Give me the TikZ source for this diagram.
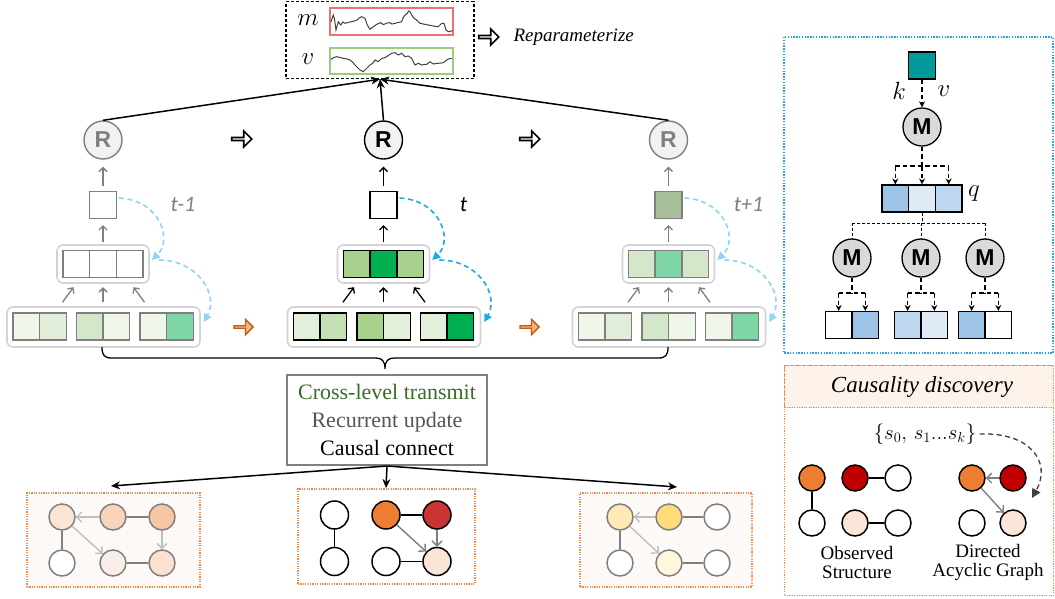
\documentclass[tikz,border=0pt]{standalone}
\usepackage{fontspec}
\setmainfont{Liberation Serif}
\newfontfamily\sansbf{Liberation Sans}
\newfontfamily\carlito{Carlito}
\usetikzlibrary{arrows.meta,shapes.arrows,calc}
\definecolor{cgray}{HTML}{7F7F7F}
\definecolor{contc}{HTML}{D3D3D3}
\definecolor{rfill}{HTML}{F2F2F2}
\definecolor{gA}{HTML}{EFF7EB}
\definecolor{gB}{HTML}{E2EEDA}
\definecolor{gC}{HTML}{D4E7CA}
\definecolor{gM}{HTML}{7FD6A6}
\definecolor{gS}{HTML}{A8C09A}
\definecolor{mA}{HTML}{E2F0D9}
\definecolor{mB}{HTML}{C5E0B4}
\definecolor{mC}{HTML}{A9D18E}
\definecolor{mG}{HTML}{00B050}
\definecolor{blL}{HTML}{8DD4F6}
\definecolor{blD}{HTML}{18ACEB}
\definecolor{oBord}{HTML}{F08A4B}
\definecolor{oFill}{HTML}{FDF9F6}
\definecolor{oArrF}{HTML}{F4B183}
\definecolor{oArrD}{HTML}{C55A11}
\definecolor{pA}{HTML}{FCE4D6}
\definecolor{pB}{HTML}{F9D3BA}
\definecolor{pC}{HTML}{F7C6A5}
\definecolor{pD}{HTML}{F9EDE8}
\definecolor{pE}{HTML}{FBE1D2}
\definecolor{yA}{HTML}{FFE9B5}
\definecolor{yB}{HTML}{FFDC7A}
\definecolor{yC}{HTML}{FFF6DE}
\definecolor{cOr}{HTML}{ED7D31}
\definecolor{cRd}{HTML}{C93434}
\definecolor{cDR}{HTML}{C00000}
\definecolor{cPe}{HTML}{FBE5D6}
\definecolor{lgr}{HTML}{BFBFBF}
\definecolor{qA}{HTML}{9DC3E6}
\definecolor{qB}{HTML}{DEEBF7}
\definecolor{qC}{HTML}{BDD7EE}
\definecolor{teal}{HTML}{009A9A}
\definecolor{mfill}{HTML}{D9D9D9}
\definecolor{blueDot}{HTML}{1FA8E8}
\definecolor{hdr}{HTML}{FDF3EA}
\definecolor{tgreen}{HTML}{3B6B2A}
\definecolor{tgray}{HTML}{555555}
\definecolor{redbox}{HTML}{F07070}
\definecolor{greenbox}{HTML}{9CCB7E}
\definecolor{wave}{HTML}{404040}
\newcommand\myfs[2]{\fontsize{#1}{#2}\selectfont}
\tikzset{
  sq/.style={rectangle, minimum width=26.7pt, minimum height=26.7pt, inner sep=0pt, line width=1.4pt},
  fade/.style={draw=cgray, text=cgray},
  dark/.style={draw=black, text=black},
  cont/.style={draw=contc, line width=1.6pt, rounded corners=6pt, inner sep=0pt},
  rnode/.style={circle, minimum size=38pt, inner sep=0pt, line width=1.4pt, fill=rfill, font=\sansbf\bfseries\myfs{23}{23}},
  colarr/.style={-{Straight Barb[length=4pt,width=8pt]}, line width=1.3pt},
  bdash/.style={dash pattern=on 5pt off 3.5pt, line width=1.6pt, -{Triangle[length=8pt,width=8pt]}},
  tlab/.style={font=\carlito\itshape\myfs{22}{22}, draw=none},
  hollow/.style={single arrow, draw=black, fill=white, line width=1.6pt, minimum height=20pt, minimum width=16pt, single arrow head extend=3.5pt, inner sep=0pt},
  oarrow/.style={single arrow, draw=oArrD, fill=oArrF, line width=1.3pt, minimum height=19pt, minimum width=15pt, single arrow head extend=3.5pt, inner sep=0pt},
  gnode/.style={circle, minimum size=26pt, inner sep=0pt, line width=1.5pt},
  gline/.style={line width=1.5pt},
  garr/.style={line width=1.4pt, -{Straight Barb[length=5pt,width=10pt]}},
  obox/.style={draw=oBord, dash pattern=on 1.2pt off 1.2pt, line width=1.1pt},
  topl/.style={line width=1.5pt, -{Stealth[length=9pt,width=8pt]}},
  dsh/.style={line width=1.4pt, dash pattern=on 4.5pt off 3pt},
  dsht/.style={line width=0.7pt, dash pattern=on 3pt off 2pt},
  dtip/.style={-{Stealth[length=6pt,width=6pt]}},
  mnode/.style={circle, draw=black, fill=mfill, minimum size=38pt, inner sep=0pt, line width=1.3pt, font=\sansbf\bfseries\myfs{23}{23}},
  qsq/.style={rectangle, draw=black, minimum width=26.7pt, minimum height=26.7pt, inner sep=0pt, line width=1.4pt},
}
% #1 prefix, #2 cx, #3 style, #4 square fill, #5 mid fills, #6 bottom fills, #7 blue, #8 label
\newcommand\mycol[8]{%
  \node[cont, minimum width=193pt, minimum height=40pt] (#1bc) at ({#2+0.5},327) {};
  \node[cont, minimum width=92pt, minimum height=38pt] (#1mc) at (#2,264) {};
  \foreach \f [count=\i] in {#5} {\node[sq,#3,fill=\f] (#1m\i) at ({#2+(\i-2)*26.7},264) {};}
  \foreach \f [count=\i] in {#6} {\node[sq,#3,fill=\f] (#1b\i) at ({#2+(int((\i-1)/2)-1)*63.5+(mod(\i-1,2)-0.5)*26.7},326.5) {};}
  \node[sq,#3,fill=#4] (#1sq) at (#2,205) {};
  \node[rnode,#3] (#1R) at (#2,140) {R};
  \draw[colarr,#3,shorten <=5pt,shorten >=7pt] (#1sq.north) -- (#1R.south);
  \draw[colarr,#3,shorten <=2pt,shorten >=6pt] (#1mc.north) -- (#1sq.south);
  \draw[colarr,#3] ($(#1bc.north)+(-41,-4)$) -- ++(11,-15);
  \draw[colarr,#3] ($(#1bc.north)+(-0.5,-4)$) -- ++(0,-15);
  \draw[colarr,#3] ($(#1bc.north)+(41,-4)$) -- ++(-11,-15);
  \draw[bdash,draw=#7] ($(#1sq.east)+(2,-7)$) .. controls ({#2+57},200) and ({#2+70},240) .. ($(#1mc.east)+(2,-4)$);
  \draw[bdash,draw=#7] ($(#1mc.east)+(9,-4)$) .. controls ({#2+95},260) and ({#2+116},295) .. ($(#1bc.east)+(3,-5)$);
  \node[tlab,#3,draw=none] (#1lab) at ({#2+80},205) {#8};
}
\begin{document}
\begin{tikzpicture}[x=1pt,y=-1pt]
\useasboundingbox (0,0) rectangle (1055,598);

% ---------- top box ----------
\node[draw=black, dash pattern=on 3pt off 2pt, line width=1.4pt, minimum width=188pt, minimum height=77pt, inner sep=0pt] (topbox) at (380,40) {};
\node[draw=redbox, line width=1.3pt, minimum width=123pt, minimum height=27pt, inner sep=0pt] (mbox) at (391.5,21.5) {};
\node[draw=greenbox, line width=1.3pt, minimum width=123pt, minimum height=26pt, inner sep=0pt] (vbox) at (391.5,61) {};
\node[font=\myfs{25}{25}] (mlab) at (308,20) {$m$};
\node[font=\myfs{25}{25}] (vlab) at (308,59) {$v$};
\draw[wave, line width=1pt] plot coordinates {(331,21.7) (333.3,15) (334.5,19) (336,30) (338.3,21.7) (340.7,25) (343,22) (345,23.3) (348,22.5) (351.7,21.7) (354,21) (357.3,20) (359,18) (361.7,16.7) (365,18.3) (367.3,25) (370,29.3) (373.3,26.7) (375,25.5) (377.3,24) (380.7,22.7) (383,24.5) (385,24) (387,23) (390,22.7) (392,24) (395,23.3) (398,22.5) (401.7,21.7) (403,18) (405,15) (407.3,13.3) (408.5,11) (410,11.7) (411.7,15) (414,18.3) (416.7,20) (418,21.5) (420,23.3) (423.3,24) (426,24.5) (428.3,25) (431,25.5) (433.3,26) (436,26.5) (438.3,26.7) (441.7,23.3) (444,23.3) (446,30) (448.3,31.7) (452.7,30.7)};
\draw[wave, line width=1pt] plot coordinates {(331,59.3) (334,57.5) (336.7,56.7) (340,57.5) (343.3,58.3) (347,59) (350,60) (352.5,62) (355,65) (357.5,67.5) (360,70) (363.3,71.7) (366.7,68.3) (370,65) (372.7,63.3) (375,60) (378.3,61.7) (381.7,58.3) (384,58) (386.7,56.7) (389,55) (391.7,53.3) (395,52.7) (398.3,55) (401.7,53.3) (403,54.5) (405,56.7) (408.3,56) (411.7,58.3) (413,61) (415,65) (418.3,63.3) (421.7,65) (424,64.5) (426.7,64.3) (430,61.7) (433.3,64) (436,63.5) (438.3,63.3) (441,63) (443.3,62.7) (446.7,60) (448.5,59) (451.7,58.3)};
\node[hollow] (rparr) at (488,37) {};
\node[anchor=west, font=\itshape\myfs{19}{19}] (rptext) at (510,37) {Reparameterize};

% ---------- three columns ----------
\mycol{l}{103}{fade}{white}{white,white,white}{gA,gB,gC,gA,gA,gM}{blL}{t-1}
\mycol{c}{383.5}{dark}{white}{mC,mG,mC}{mA,mB,mC,mA,mA,mG}{blD}{t}
\mycol{r}{668.5}{fade}{gS}{gC,gM,gC}{gA,gB,gC,gA,gA,gM}{blL}{t+1}

\draw[topl] (lR.north) -- (topbox.south);
\draw[topl] (cR.north) -- (topbox.south);
\draw[topl] (rR.north) -- (topbox.south);

\node[hollow] (ha1) at (241,139) {};
\node[hollow] (ha2) at (529,139) {};
\node[oarrow] (oa1) at (243,327) {};
\node[oarrow] (oa2) at (529,327) {};

% brace
\draw[line width=1.3pt] (102,347) .. controls (102,355) and (104,358) .. (112,358) -- (376,358)
  .. controls (382,358) and (385,361) .. (385,369) .. controls (385,361) and (388,358) .. (394,358)
  -- (658,358) .. controls (666,358) and (668,355) .. (668,347);

% ---------- text box ----------
\node[draw=cgray, line width=2pt, minimum width=200pt, minimum height=90pt, inner sep=0pt, align=center, font=\myfs{22}{28}] (tb) at (387,420)
  {\textcolor{tgreen}{Cross-level transmit}\\\textcolor{tgray}{Recurrent update}\\Causal connect};

\coordinate (la) at (111,486);
\coordinate (ma) at (386,488);
\coordinate (ra) at (677,487);
\draw[topl] (tb.south) -- (la);
\draw[topl] (tb.south) -- (ma);
\draw[topl] (tb.south) -- (ra);

% ---------- bottom graphs ----------
\node[obox, fill=oFill, minimum width=173pt, minimum height=94pt, inner sep=0pt] (Lbox) at (113.5,540) {};
\node[obox, fill=white, minimum width=177pt, minimum height=95pt, inner sep=0pt] (Mbox) at (386.5,536.5) {};
\node[obox, fill=oFill, minimum width=172pt, minimum height=94pt, inner sep=0pt] (Rbox) at (666,540) {};

% left graph
\node[gnode, draw=cgray, fill=pA] (L11) at (62,517) {};
\node[gnode, draw=cgray, fill=pB] (L12) at (113,517) {};
\node[gnode, draw=cgray, fill=pC] (L13) at (162,517) {};
\node[gnode, draw=cgray, fill=white] (L21) at (62,563) {};
\node[gnode, draw=cgray, fill=pD] (L22) at (113,563) {};
\node[gnode, draw=cgray, fill=pE] (L23) at (162,563) {};
\draw[garr, draw=lgr] (L12) -- (L11);
\draw[gline, draw=cgray] (L12) -- (L13);
\draw[garr, draw=lgr] (L13) -- (L23);
\draw[gline, draw=cgray] (L11) -- (L21);
\draw[garr, draw=lgr] (L11) -- (L22);
\draw[gline, draw=cgray] (L22) -- (L23);

% middle graph
\node[gnode, draw=black, fill=white, minimum width=27pt, minimum height=28pt] (M11) at (334.5,515) {};
\node[gnode, draw=black, fill=cOr, minimum width=27pt, minimum height=28pt] (M12) at (386,515) {};
\node[gnode, draw=black, fill=cRd, minimum width=27pt, minimum height=28pt] (M13) at (437,515) {};
\node[gnode, draw=black, fill=white, minimum width=27pt, minimum height=28pt] (M21) at (334.5,561.5) {};
\node[gnode, draw=black, fill=white, minimum width=27pt, minimum height=28pt] (M22) at (386,561.5) {};
\node[gnode, draw=black, fill=cPe, minimum width=27pt, minimum height=28pt] (M23) at (437,561.5) {};
\draw[gline] (M11) -- (M21);
\draw[gline] (M12) -- (M13);
\draw[garr, draw=cgray] (M12) -- (M23);
\draw[garr, draw=cgray] (M13) -- (M23);
\draw[gline] (M22) -- (M23);

% right graph
\node[gnode, draw=cgray, fill=yA] (R11) at (620,517) {};
\node[gnode, draw=cgray, fill=yB] (R12) at (669,517) {};
\node[gnode, draw=cgray, fill=white] (R13) at (717,517) {};
\node[gnode, draw=cgray, fill=white] (R21) at (620,563) {};
\node[gnode, draw=cgray, fill=yC] (R22) at (669,563) {};
\node[gnode, draw=cgray, fill=white] (R23) at (717,563) {};
\draw[garr, draw=lgr] (R12) -- (R11);
\draw[gline, draw=cgray] (R12) -- (R13);
\draw[gline, draw=cgray] (R11) -- (R21);
\draw[garr, draw=lgr] (R11) -- (R22);
\draw[gline, draw=cgray] (R22) -- (R23);

% ---------- right top panel ----------
\draw[draw=blueDot, line width=1.6pt, dash pattern=on 1.4pt off 1.4pt] (784,37) rectangle (1053,353);
\node[rectangle, draw=black, fill=teal, minimum size=27pt, inner sep=0pt, line width=1.4pt] (kv) at (922,65.5) {};
\node[font=\myfs{25}{25}] (klab) at (899,91) {$k$};
\node[font=\myfs{25}{25}] (vlab2) at (944,91) {$v$};
\node[mnode] (Mt) at (922,127) {M};
\draw[dsh, dtip] (kv.south) -- (Mt.north);
\node[qsq, fill=qA] (q1) at (895.3,198.5) {};
\node[qsq, fill=qB] (q2) at (922,198.5) {};
\node[qsq, fill=qC] (q3) at (948.7,198.5) {};
\node[font=\myfs{25}{25}] (qlab) at (974,194) {$q$};
\coordinate (br) at (922,166);
\coordinate (brl) at (895.3,166);
\coordinate (brr) at (948.7,166);
\draw[dsh] (Mt.south) -- (br);
\draw[dsh] (brl) -- (brr);
\draw[dsh, dtip] (brl) -- (q1.north);
\draw[dsh, dtip] (br) -- (q2.north);
\draw[dsh, dtip] (brr) -- (q3.north);
\node[mnode] (Ma) at (852,258) {M};
\node[mnode] (Mb) at (921,258) {M};
\node[mnode] (Mc) at (985,258) {M};
\coordinate (tb0) at (922,223);
\coordinate (tbl) at (852,223);
\coordinate (tbm) at (921,223);
\coordinate (tbr) at (985,223);
\draw[dsht] (q2.south) -- (tb0);
\draw[dsht] (tbl) -- (tbr);
\draw[dsht] (tbl) -- (Ma.north);
\draw[dsht] (tbm) -- (Mb.north);
\draw[dsht] (tbr) -- (Mc.north);
% bottom cells
\foreach \m/\cx/\fa/\fb in {Ma/852/white/qA, Mb/921/qC/qB, Mc/985/qA/white} {
  \node[qsq, fill=\fa] (\m x) at ({\cx-13.35},325) {};
  \node[qsq, fill=\fb] (\m y) at ({\cx+13.35},325) {};
  \coordinate (\m c) at (\cx,293);
  \coordinate (\m l) at ({\cx-13.35},293);
  \coordinate (\m r) at ({\cx+13.35},293);
  \draw[dsh] (\m.south) -- (\m c);
  \draw[dsh] (\m l) -- (\m r);
  \draw[dsh, dtip] (\m l) -- (\m x.north);
  \draw[dsh, dtip] (\m r) -- (\m y.north);
}

% ---------- causality panel ----------
\node[obox, fill=white, minimum width=269pt, minimum height=230pt, inner sep=0pt, anchor=north west] (cbox) at (784,365) {};
\node[obox, fill=hdr, minimum width=269pt, minimum height=42pt, inner sep=0pt, anchor=north west] (chdr) at (784,365) {};
\node[font=\itshape\myfs{23}{23}] (ctitle) at (922,387) {Causality discovery};
\node[font=\myfs{22}{22}] (sset) at (925,434) {$\{s_0,\,s_1...s_k\}$};
\coordinate (sarr) at (1032,498);
\draw[line width=1.3pt, draw=wave, dash pattern=on 5pt off 3.5pt, -{Triangle[length=9pt,width=9pt]}] (sset.east) .. controls (1030,432) and (1052,462) .. (sarr);

\node[gnode, draw=black, fill=cOr] (O11) at (812,478) {};
\node[gnode, draw=black, fill=cDR] (O12) at (855,478) {};
\node[gnode, draw=black, fill=white] (O13) at (898,478) {};
\node[gnode, draw=black, fill=white] (O21) at (812,523) {};
\node[gnode, draw=black, fill=cPe] (O22) at (855,523) {};
\node[gnode, draw=black, fill=white] (O23) at (898,523) {};
\draw[gline] (O11) -- (O21);
\draw[gline] (O12) -- (O13);
\draw[gline] (O22) -- (O23);

\node[gnode, draw=black, fill=cOr] (D11) at (972,478) {};
\node[gnode, draw=black, fill=cDR] (D12) at (1013,478) {};
\node[gnode, draw=black, fill=white] (D21) at (972,523) {};
\node[gnode, draw=black, fill=cPe] (D22) at (1013,523) {};
\draw[garr, draw=cgray] (D12) -- (D11);
\draw[garr, draw=cgray] (D11) -- (D22);

\node[align=center, font=\myfs{19}{19}] (obs) at (857,562) {Observed\\Structure};
\node[align=center, font=\myfs{19}{19}] (dag) at (988,562) {Directed\\Acyclic Graph};
\end{tikzpicture}
\end{document}
